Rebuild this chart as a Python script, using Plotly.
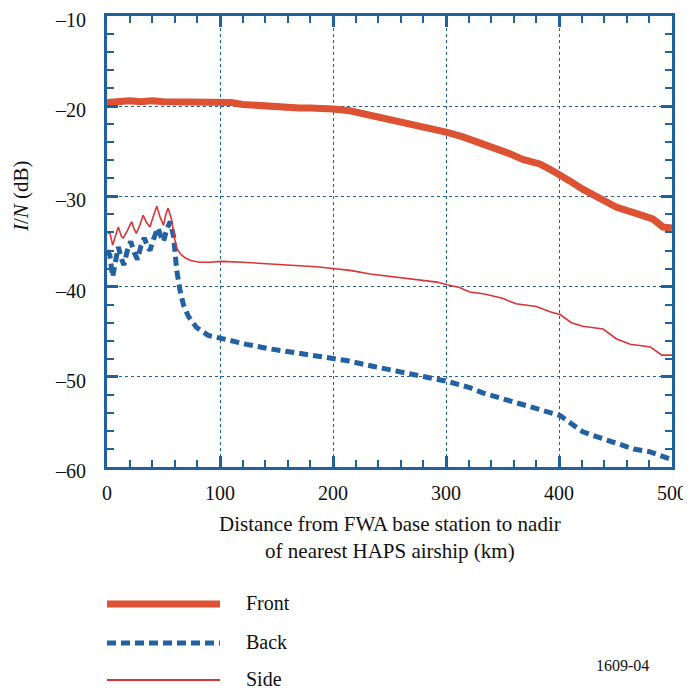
import plotly.graph_objects as go

front_x = [0, 10, 20, 30, 40, 50, 60, 70, 80, 90, 100, 110, 120, 130, 140, 150, 160, 170, 180, 190, 200,
           215, 230, 242, 259, 275, 289, 301, 315, 327, 342, 355, 368, 383, 392, 401, 411, 421, 430, 439,
           451, 466, 483, 492, 500]
front_y = [-19.6, -19.5, -19.4, -19.5, -19.4, -19.5, -19.5, -19.5, -19.5, -19.5, -19.5, -19.6, -19.8,
           -19.9, -20.0, -20.1, -20.2, -20.2, -20.2, -20.2, -20.3, -20.5, -20.9, -21.2, -21.7, -22.1,
           -22.5, -22.9, -23.4, -23.9, -24.5, -25.2, -25.9, -26.4, -27.0, -27.6, -28.4, -29.2, -29.8,
           -30.2, -31.2, -31.8, -32.5, -33.4, -33.5]

side_x = [0, 2.7, 5, 8, 10, 13, 14.5, 18, 21.8, 24, 26, 29, 32, 35, 38, 41, 44, 47, 50, 52, 54, 57, 60,
          62, 64.6, 67, 69, 74, 79, 82, 90, 101.5, 120, 135, 162, 185, 200, 215, 233, 259, 277, 292, 301,
          312, 321, 333, 350, 362, 380, 392, 401, 411, 421, 439, 451, 463, 481, 491, 500]
side_y = [-34.0, -34.1, -35.4, -34.2, -33.4, -34.5, -34.6, -33.8, -32.8, -33.6, -34.1, -33.2, -32.1,
          -32.9, -33.4, -32.2, -31.1, -32.3, -33.2, -32.0, -31.3, -32.5, -34.8, -35.8, -36.3, -36.6,
          -36.8, -37.1, -37.2, -37.3, -37.3, -37.2, -37.3, -37.4, -37.6, -37.8, -38.0, -38.2, -38.6,
          -39.0, -39.3, -39.5, -39.8, -40.1, -40.6, -40.8, -41.3, -41.9, -42.2, -42.8, -43.1, -44.0,
          -44.4, -44.7, -45.8, -46.4, -46.7, -47.6, -47.6]

back_x = [0, 2.5, 5, 8, 10, 13, 15, 18, 21, 24, 27, 30, 33, 36, 38, 41, 45, 48, 50, 53, 56, 59, 61.7,
          64.6, 67.6, 72, 79, 89.5, 101.5, 123.6, 144, 168, 188.5, 212, 234, 256, 277, 301, 321, 333,
          359, 380, 401, 411, 421, 442, 466, 480, 492, 500]
back_y = [-36.0, -36.5, -38.9, -36.5, -35.6, -37.0, -37.6, -36.0, -35.0, -36.2, -37.0, -35.5, -34.6,
          -35.6, -36.0, -34.8, -33.5, -34.5, -35.0, -33.6, -32.8, -34.5, -38.2, -40.4, -42.0, -43.3,
          -44.5, -45.4, -45.8, -46.4, -46.9, -47.4, -47.8, -48.2, -48.8, -49.3, -49.9, -50.5, -51.2,
          -51.8, -52.8, -53.5, -54.3, -55.2, -56.1, -57.0, -58.0, -58.3, -58.8, -59.2]

x_ticks = [0, 100, 200, 300, 400, 500]
y_ticks = [-10, -20, -30, -40, -50, -60]
y_ticktext = ["\u201310", "\u201320", "\u201330", "\u201340", "\u201350", "\u201360"]

series_names = ["Front", "Back", "Side"]

C_FRONT = "#DC5232"
C_BACK = "#2262A2"
C_SIDE = "#DA3439"
C_AXIS = "#2062A0"
FONT = "Liberation Serif"
TXT = "#111111"

fig = go.Figure()
fig.add_trace(go.Scatter(x=front_x, y=front_y, mode="lines", name=series_names[0],
                         line=dict(color=C_FRONT, width=7)))
fig.add_trace(go.Scatter(x=back_x, y=back_y, mode="lines", name=series_names[1],
                         line=dict(color=C_BACK, width=5, dash="9px,5px")))
fig.add_trace(go.Scatter(x=side_x, y=side_y, mode="lines", name=series_names[2],
                         line=dict(color=C_SIDE, width=1.6)))

axis_common = dict(
    showline=True, linecolor=C_AXIS, linewidth=3, mirror="ticks", automargin=False,
    ticks="inside", ticklen=11, tickwidth=3, tickcolor=C_AXIS, ticklabeloverflow="allow",
    showgrid=True, gridcolor=C_AXIS, gridwidth=1, griddash="dot",
    zeroline=False, tickfont=dict(family=FONT, size=20, color=TXT),
)

fig.update_xaxes(range=[0, 500], tickvals=x_ticks, ticklabelstandoff=6,
                 minor=dict(dtick=20, ticks="inside", ticklen=7, tickwidth=2, tickcolor=C_AXIS, showgrid=False),
                 **axis_common)
fig.update_yaxes(range=[-60, -10], tickvals=y_ticks, ticktext=y_ticktext, ticklabelstandoff=14,
                 ticklabelshift=4,
                 minor=dict(dtick=2, ticks="inside", ticklen=7, tickwidth=2, tickcolor=C_AXIS, showgrid=False),
                 **axis_common)

# page body has an 8px margin: the figure is offset by (8, 8) in the page
OFF = 8
W, H = 691 - OFF, 695 - OFF
L, R, T = 107 - OFF, 691 - 672, 16 - OFF
B = H - (467 - OFF)
pw, ph = W - L - R, H - T - B

def px_to_paper(x, y):
    # x, y in page pixels
    return (x - OFF - L) / pw, 1 - (y - OFF - T) / ph

shapes = []
annotations = []
legend_rows = [(series_names[0], C_FRONT, 7, "solid", 604),
               (series_names[1], C_BACK, 5, "9px,5px", 643),
               (series_names[2], C_SIDE, 2.2, "solid", 680)]
for name, col, w, dash, ypx in legend_rows:
    x0, yy = px_to_paper(107, ypx)
    x1, _ = px_to_paper(220, ypx)
    shapes.append(dict(type="line", xref="paper", yref="paper", x0=x0, x1=x1, y0=yy, y1=yy,
                       line=dict(color=col, width=w, dash=dash)))
    tx, ty = px_to_paper(244, ypx - 1)
    annotations.append(dict(xref="paper", yref="paper", x=tx, y=ty, text=name, showarrow=False,
                            xanchor="left", yanchor="middle",
                            font=dict(family=FONT, size=20, color=TXT)))

ax, ay = px_to_paper(390, 537)
annotations.append(dict(xref="paper", yref="paper", x=ax, y=ay,
                        text="Distance from FWA base station to nadir<br>of nearest HAPS airship (km)",
                        showarrow=False, xanchor="center", yanchor="middle",
                        font=dict(family=FONT, size=21, color=TXT)))
yx, yy = px_to_paper(21, 196)
annotations.append(dict(xref="paper", yref="paper", x=yx, y=yy, text="<i>I</i>/<i>N</i> (dB)",
                        showarrow=False, textangle=-90, xanchor="center", yanchor="middle",
                        font=dict(family=FONT, size=21, color=TXT)))
fx, fy = px_to_paper(622, 665)
annotations.append(dict(xref="paper", yref="paper", x=fx, y=fy, text="1609-04", showarrow=False,
                        xanchor="center", yanchor="middle",
                        font=dict(family=FONT, size=16, color=TXT)))

fig.update_layout(width=W, height=H, margin=dict(l=L, r=R, t=T, b=B),
                  plot_bgcolor="white", paper_bgcolor="white", showlegend=False,
                  shapes=shapes, annotations=annotations)

fig.write_html("out.html")
